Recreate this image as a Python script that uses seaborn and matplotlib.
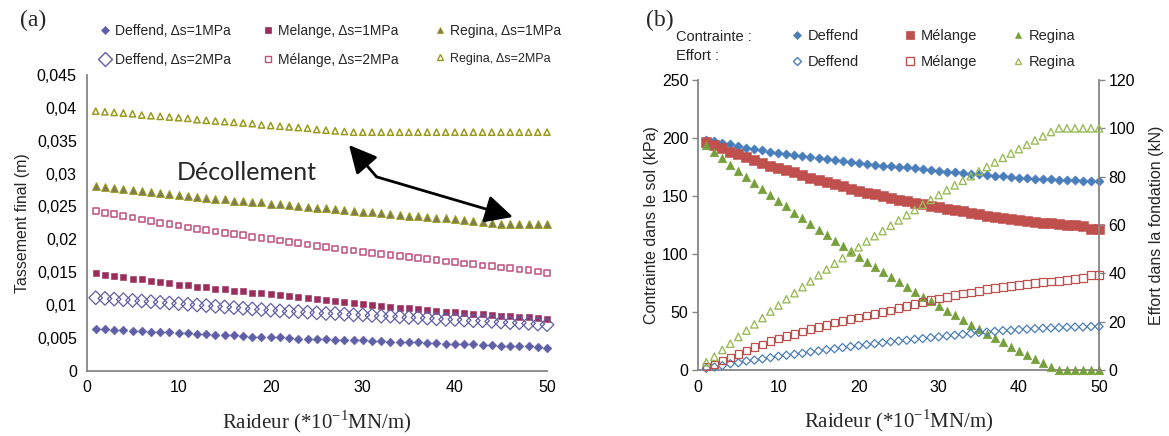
import matplotlib
matplotlib.use("Agg")
import matplotlib.pyplot as plt
import seaborn as sns
import pandas as pd
from matplotlib.lines import Line2D

# ---------------- data ----------------
raideur = list(range(1, 51))

# panel (a): final settlement (m)
a_deffend_1 = [0.0064, 0.0064, 0.0062, 0.0062, 0.0061, 0.0061, 0.0059, 0.0059, 0.0059, 0.0058,
               0.0057, 0.0056, 0.0056, 0.0055, 0.0054, 0.0054, 0.0053, 0.0052, 0.0052, 0.0051,
               0.0051, 0.0050, 0.0049, 0.0049, 0.0048, 0.0048, 0.0047, 0.0047, 0.0046, 0.0046,
               0.0045, 0.0045, 0.0044, 0.0044, 0.0043, 0.0043, 0.0042, 0.0042, 0.0041, 0.0041,
               0.0040, 0.0040, 0.0039, 0.0039, 0.0038, 0.0038, 0.0037, 0.0037, 0.0036, 0.0035]
a_deffend_2 = [0.0111, 0.0110, 0.0109, 0.0108, 0.0107, 0.0106, 0.0105, 0.0104, 0.0103, 0.0102,
               0.0101, 0.0100, 0.0099, 0.0098, 0.0097, 0.0096, 0.0095, 0.0094, 0.0093, 0.0092,
               0.0091, 0.0090, 0.0090, 0.0089, 0.0088, 0.0087, 0.0087, 0.0086, 0.0085, 0.0085,
               0.0084, 0.0083, 0.0083, 0.0082, 0.0081, 0.0081, 0.0080, 0.0079, 0.0078, 0.0078,
               0.0077, 0.0076, 0.0076, 0.0075, 0.0074, 0.0073, 0.0073, 0.0072, 0.0071, 0.0070]
a_melange_1 = [0.0148, 0.0146, 0.0144, 0.0142, 0.0140, 0.0139, 0.0137, 0.0135, 0.0133, 0.0131,
               0.0130, 0.0128, 0.0127, 0.0125, 0.0124, 0.0122, 0.0121, 0.0119, 0.0118, 0.0116,
               0.0115, 0.0113, 0.0112, 0.0110, 0.0109, 0.0108, 0.0106, 0.0105, 0.0103, 0.0101,
               0.0100, 0.0099, 0.0097, 0.0096, 0.0095, 0.0094, 0.0092, 0.0091, 0.0090, 0.0089,
               0.0088, 0.0087, 0.0086, 0.0085, 0.0084, 0.0083, 0.0082, 0.0081, 0.0080, 0.0079]
a_melange_2 = [0.0243, 0.0240, 0.0238, 0.0235, 0.0233, 0.0230, 0.0228, 0.0225, 0.0223, 0.0221,
               0.0218, 0.0216, 0.0214, 0.0212, 0.0210, 0.0208, 0.0206, 0.0204, 0.0202, 0.0200,
               0.0198, 0.0196, 0.0194, 0.0192, 0.0190, 0.0188, 0.0186, 0.0184, 0.0183, 0.0181,
               0.0179, 0.0178, 0.0176, 0.0175, 0.0173, 0.0171, 0.0170, 0.0168, 0.0166, 0.0165,
               0.0163, 0.0162, 0.0160, 0.0159, 0.0157, 0.0156, 0.0154, 0.0153, 0.0151, 0.0149]
a_regina_1 = [0.0281, 0.0280, 0.0278, 0.0277, 0.0275, 0.0274, 0.0272, 0.0271, 0.0269, 0.0268,
              0.0266, 0.0265, 0.0263, 0.0262, 0.0261, 0.0259, 0.0258, 0.0257, 0.0256, 0.0254,
              0.0253, 0.0252, 0.0250, 0.0249, 0.0248, 0.0247, 0.0246, 0.0244, 0.0243, 0.0242,
              0.0241, 0.0240, 0.0239, 0.0237, 0.0236, 0.0235, 0.0234, 0.0233, 0.0232, 0.0231,
              0.0229, 0.0228, 0.0227, 0.0225, 0.0224, 0.0224, 0.0224, 0.0224, 0.0224, 0.0224]
a_regina_2 = [0.0395, 0.0394, 0.0393, 0.0392, 0.0391, 0.0389, 0.0388, 0.0387, 0.0386, 0.0385,
              0.0384, 0.0382, 0.0381, 0.0380, 0.0379, 0.0378, 0.0377, 0.0376, 0.0374, 0.0373,
              0.0372, 0.0371, 0.0370, 0.0369, 0.0367, 0.0366, 0.0365, 0.0364, 0.0363, 0.0363,
              0.0363, 0.0363, 0.0363, 0.0363, 0.0363, 0.0363, 0.0363, 0.0363, 0.0363, 0.0363,
              0.0363, 0.0363, 0.0363, 0.0363, 0.0363, 0.0363, 0.0363, 0.0363, 0.0363, 0.0363]

# panel (b): soil stress (kPa)
b_contr_deffend = [198.3, 197.4, 196.0, 194.8, 193.0, 191.7, 190.5, 189.4, 188.0, 187.0,
                   186.0, 185.3, 184.5, 183.3, 182.5, 181.6, 180.7, 180.0, 179.0, 178.4,
                   177.6, 176.7, 176.2, 175.7, 175.2, 174.7, 173.9, 173.0, 172.0, 171.6,
                   171.0, 170.4, 169.8, 169.3, 168.7, 168.0, 167.5, 167.0, 166.4, 165.8,
                   165.5, 165.0, 164.7, 164.4, 164.0, 163.8, 163.5, 163.2, 163.2, 163.2]
b_contr_melange = [196.8, 194.3, 191.0, 188.0, 186.0, 183.6, 180.7, 178.4, 176.0, 174.0,
                   172.0, 170.4, 168.0, 165.8, 163.8, 161.8, 160.0, 158.3, 156.3, 154.6,
                   153.0, 151.7, 150.3, 148.6, 146.8, 145.7, 144.3, 142.8, 141.7, 140.5,
                   139.0, 137.6, 136.8, 135.6, 134.2, 133.0, 132.2, 131.3, 130.0, 129.3,
                   128.4, 127.6, 127.0, 126.7, 125.9, 125.3, 125.0, 124.4, 121.8, 121.6]
b_contr_regina = [194.0, 188.0, 182.5, 177.0, 171.5, 166.7, 161.5, 156.0, 151.0, 146.0,
                  141.0, 135.6, 130.7, 126.0, 121.0, 116.0, 111.5, 107.0, 102.6, 97.7,
                  93.4, 88.8, 84.5, 80.0, 76.0, 71.6, 67.0, 63.0, 59.5, 55.0,
                  51.0, 47.0, 43.0, 39.0, 35.0, 31.3, 27.6, 24.0, 20.0, 16.7,
                  13.0, 9.5, 6.0, 2.6, 0.0, 0.0, 0.0, 0.0, 0.0, 0.0]
# panel (b): force in the foundation (kN)
b_eff_deffend = [0.7, 1.2, 1.8, 2.6, 3.0, 3.7, 4.1, 4.6, 5.1, 5.7,
                 6.1, 6.5, 6.9, 7.5, 7.9, 8.4, 8.8, 9.3, 9.7, 10.1,
                 10.5, 10.9, 11.3, 11.7, 12.0, 12.3, 12.7, 13.0, 13.4, 13.7,
                 14.1, 14.4, 14.8, 15.1, 15.5, 15.7, 16.0, 16.3, 16.4, 16.7,
                 16.9, 17.1, 17.3, 17.4, 17.5, 17.7, 17.8, 17.8, 18.0, 18.0]
b_eff_melange = [1.5, 2.3, 3.9, 5.2, 6.6, 8.0, 9.4, 10.5, 11.9, 13.0,
                 14.0, 14.9, 16.0, 16.9, 17.8, 18.6, 19.6, 20.3, 21.0, 21.8,
                 22.5, 23.2, 23.9, 24.7, 25.6, 26.6, 27.4, 28.2, 29.0, 29.6,
                 30.2, 31.0, 31.6, 32.0, 32.7, 33.4, 34.0, 34.4, 34.8, 35.1,
                 35.5, 35.9, 36.3, 36.6, 36.9, 37.3, 37.6, 38.1, 39.2, 39.2]
b_eff_regina = [3.2, 5.5, 8.3, 10.9, 13.7, 16.3, 18.9, 21.5, 24.2, 26.7,
                29.3, 31.8, 34.3, 36.7, 39.2, 41.6, 44.0, 46.3, 48.6, 50.8,
                53.2, 55.4, 57.5, 59.7, 61.9, 64.1, 66.2, 68.4, 70.4, 72.4,
                74.4, 76.4, 78.3, 80.2, 82.2, 84.0, 85.9, 87.8, 89.6, 91.4,
                93.2, 95.0, 96.7, 98.5, 100.0, 100.0, 100.0, 100.0, 100.0, 100.0]

a_yticks = [0, 0.005, 0.01, 0.015, 0.02, 0.025, 0.03, 0.035, 0.04, 0.045]
a_yticklabels = ["0", "0,005", "0,01", "0,015", "0,02", "0,025", "0,03", "0,035", "0,04", "0,045"]
x_ticks = [0, 10, 20, 30, 40, 50]
b_left_ticks = [0, 50, 100, 150, 200, 250]
b_right_ticks = [0, 20, 40, 60, 80, 100, 120]

a_labels = ["Deffend, \u0394s=1MPa", "Deffend, \u0394s=2MPa",
            "Melange, \u0394s=1MPa", "M\u00e9lange, \u0394s=2MPa",
            "Regina, \u0394s=1MPa", "Regina, \u0394s=2MPa"]
b_names = ["Deffend", "M\u00e9lange", "Regina"]

# ---------------- style ----------------
sns.set_theme(style="white")
plt.rcParams["font.family"] = ["Liberation Sans", "DejaVu Sans"]
plt.rcParams["mathtext.fontset"] = "custom"
plt.rcParams["mathtext.rm"] = "Liberation Serif"

W, H = 1169, 436
fig = plt.figure(figsize=(W / 100, H / 100), dpi=100)
axA = fig.add_axes([86.5 / W, 1 - 370.7 / H, (547 - 86.5) / W, (370.7 - 75) / H])
axB = fig.add_axes([698.3 / W, 1 - 370 / H, (1099 - 698.3) / W, (370 - 80) / H])
axB2 = axB.twinx()

GRAY = "#868686"
C_DEF_A, C_MEL_A, C_MEL_A2, C_REG_A, C_REG_A_FILL = "#5f5fa6", "#9b2d5c", "#c0507e", "#9a9a1e", "#7d7a58"
C_DEF_B, C_MEL_B, C_REG_B, C_REG_B2 = "#4a7ebb", "#c0504d", "#77a03c", "#9bbb59"


def scat(ax, y, marker, size, color, filled=True, edge=None, lw=1.0):
    df = pd.DataFrame({"x": raideur, "y": y})
    if filled:
        sns.scatterplot(data=df, x="x", y="y", ax=ax, marker=marker, s=size,
                        color=color, edgecolor=edge or color, linewidth=lw, zorder=3, clip_on=False)
    else:
        sns.scatterplot(data=df, x="x", y="y", ax=ax, marker=marker, s=size,
                        facecolor="none", edgecolor=color, linewidth=lw, zorder=3, clip_on=False)


# ---- panel (a) ----
scat(axA, a_regina_2, "^", 20, C_REG_A, filled=False, lw=1.1)
scat(axA, a_regina_1, "^", 30, C_REG_A_FILL, edge=C_REG_A, lw=0.8)
scat(axA, a_melange_2, "s", 17, C_MEL_A2, filled=False, lw=1.1)
scat(axA, a_melange_1, "s", 24, C_MEL_A, lw=0.4)
scat(axA, a_deffend_2, "D", 48, C_DEF_A, filled=False, lw=0.9)
scat(axA, a_deffend_1, "D", 20, C_DEF_A, lw=0.4)

axA.set_xlim(0, 50)
axA.set_ylim(0, 0.045)
axA.set_xticks(x_ticks)
axA.set_yticks(a_yticks)
axA.set_yticklabels(a_yticklabels)
axA.set_ylabel("Tassement final (m)", fontsize=11.5, labelpad=5)

axA.text(17.4, 0.0302, "D\u00e9collement", fontsize=18, family=["Lato", "DejaVu Sans"],
         ha="center", va="center")
arrow_kw = dict(arrowstyle="-|>,head_length=1.0,head_width=0.5", lw=2, color="black",
                shrinkA=0, shrinkB=0, mutation_scale=17)
axA.annotate("", xy=(28.5, 0.03435), xytext=(31.5, 0.0295), arrowprops=arrow_kw)
axA.annotate("", xy=(46.3, 0.0234), xytext=(31.5, 0.0295), arrowprops=arrow_kw)

# ---- panel (b) ----
scat(axB, b_contr_deffend, "D", 22, C_DEF_B, lw=0.4)
scat(axB, b_contr_melange, "s", 44, C_MEL_B, lw=0.4)
scat(axB, b_contr_regina, "^", 38, C_REG_B, lw=0.4)
scat(axB2, b_eff_deffend, "D", 17, C_DEF_B, filled=False, lw=0.9)
scat(axB2, b_eff_melange, "s", 30, C_MEL_B, filled=False, lw=0.9)
scat(axB2, b_eff_regina, "^", 28, C_REG_B2, filled=False, lw=1.0)

axB.set_xlim(0, 50)
axB.set_ylim(0, 250)
axB.set_xticks(x_ticks)
axB.set_yticks(b_left_ticks)
axB2.set_ylim(0, 120)
axB2.set_yticks(b_right_ticks)
axB.set_ylabel("Contrainte dans le sol (kPa)", fontsize=11.5, labelpad=2)
axB2.set_ylabel("Effort dans la fondation (kN)", fontsize=11.5, labelpad=10)

for ax in (axA, axB):
    ax.set_xlabel("Raideur (*10$^{\\mathregular{-1}}$MN/m)", fontsize=15,
                  family=["Liberation Serif", "DejaVu Serif"], labelpad=9)

for ax in (axA, axB, axB2):
    for s in ax.spines.values():
        s.set_visible(False)
    ax.tick_params(axis="both", which="major", labelsize=11.5, direction="out",
                   length=4, width=1, color=GRAY, pad=3, labelcolor="black")
    ax.grid(False)
    ax.set_facecolor("none")
for ax in (axA, axB):
    ax.spines["left"].set_visible(True)
    ax.spines["bottom"].set_visible(True)
    ax.spines["left"].set_color(GRAY)
    ax.spines["bottom"].set_color(GRAY)
    ax.spines["left"].set_linewidth(1.3)
    ax.spines["bottom"].set_linewidth(1.3)
axB2.spines["right"].set_visible(True)
axB2.spines["right"].set_color(GRAY)
axB2.spines["right"].set_linewidth(1.3)
axB2.set_xlabel("")

# panel letters
fig.text(20 / W, 1 - 20 / H, "(a)", fontsize=17, family=["Liberation Serif"], va="center", ha="left")
fig.text(646 / W, 1 - 20 / H, "(b)", fontsize=17, family=["Liberation Serif"], va="center", ha="left")


# ---- legends ----
def col_legend(handles, labels, x_px, y_px, fs, spacing):
    leg = fig.legend(handles=handles, labels=labels, loc="upper left",
                     bbox_to_anchor=(x_px / W, 1 - y_px / H), frameon=False,
                     borderpad=0, borderaxespad=0, handlelength=1.0, handletextpad=0.2,
                     labelspacing=spacing, fontsize=fs)
    return leg


def mk(marker, ms, color, filled=True, edge=None, mew=1.0):
    return Line2D([], [], linestyle="none", marker=marker, markersize=ms,
                  markerfacecolor=color if filled else "none",
                  markeredgecolor=edge or color, markeredgewidth=mew)


col_legend([mk("D", 4, C_DEF_A, mew=0.5), mk("D", 7, C_DEF_A, filled=False)],
           a_labels[0:2], 98, 24, 10, 1.05)
col_legend([mk("s", 4.5, C_MEL_A, mew=0.5), mk("s", 4.5, C_MEL_A2, filled=False)],
           a_labels[2:4], 261, 24, 10, 1.05)
legR = col_legend([mk("^", 5, C_REG_A_FILL, edge=C_REG_A, mew=0.6), mk("^", 4.5, C_REG_A, filled=False)],
                  a_labels[4:6], 433, 24, 10, 1.05)
legR.get_texts()[1].set_fontsize(9)

fig.text(676 / W, 1 - 37 / H, "Contrainte :", fontsize=10.5, va="center", ha="left")
fig.text(676 / W, 1 - 56 / H, "Effort :", fontsize=10.5, va="center", ha="left")
col_legend([mk("D", 4, C_DEF_B, mew=0.5), mk("D", 4, C_DEF_B, filled=False)],
           b_names[0:1] + b_names[0:1], 790, 29, 10.5, 0.85)
col_legend([mk("s", 5.5, C_MEL_B, mew=0.5), mk("s", 5.5, C_MEL_B, filled=False)],
           b_names[1:2] + b_names[1:2], 903, 29, 10.5, 0.85)
col_legend([mk("^", 5, C_REG_B, mew=0.5), mk("^", 5, C_REG_B2, filled=False)],
           b_names[2:3] + b_names[2:3], 1011, 29, 10.5, 0.85)

fig.savefig("out.png", dpi=100, facecolor="white")
